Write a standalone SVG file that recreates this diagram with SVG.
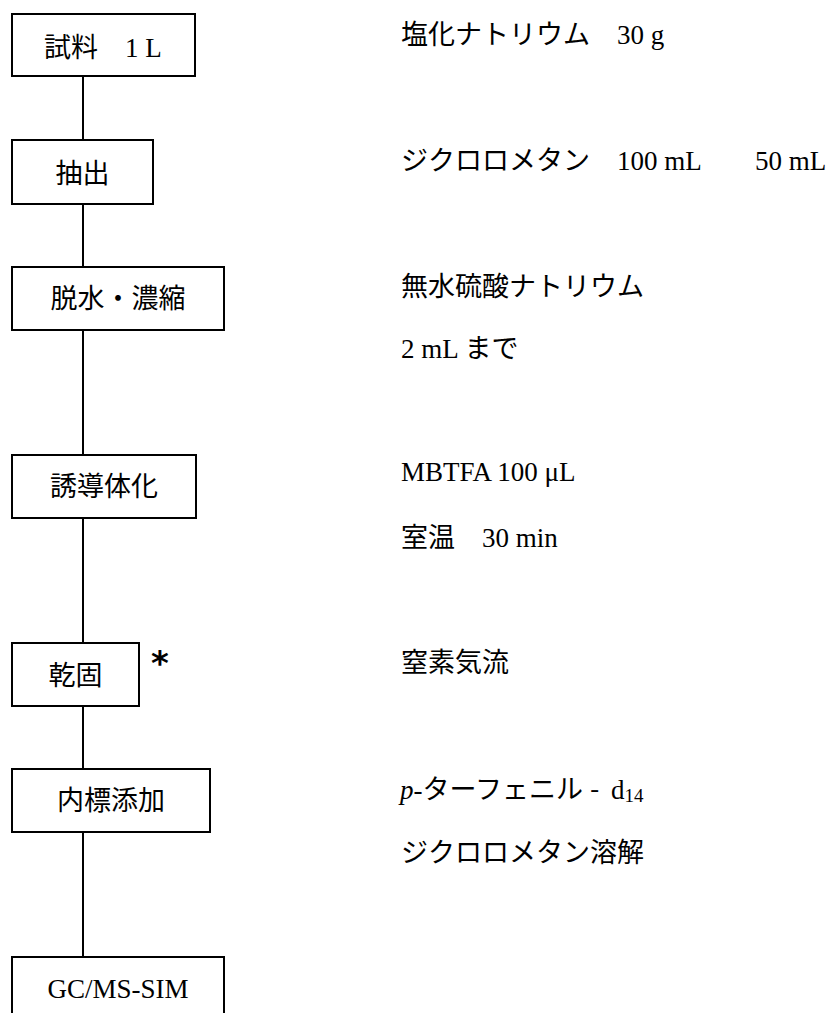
<svg xmlns="http://www.w3.org/2000/svg" width="831" height="1013" viewBox="0 0 831 1013">
<style>
.box{fill:#fff;stroke:#000;stroke-width:2}
.conn{stroke:#000;stroke-width:2;fill:none}
text{font-size:27px;fill:#000}
.jp{font-family:"Noto Sans CJK JP","Noto Sans",sans-serif}
.ro{font-family:"Liberation Serif","Times New Roman",serif}
.it{font-family:"Liberation Serif","Times New Roman",serif;font-style:italic}
.ast{font-family:"DejaVu Sans",sans-serif;font-size:34px;font-weight:bold}
</style>
<rect width="831" height="1013" fill="#fff"/>
<g id="connectors">
<line class="conn" x1="83" y1="76" x2="83" y2="140"/>
<line class="conn" x1="83" y1="204" x2="83" y2="267"/>
<line class="conn" x1="83" y1="330" x2="83" y2="455"/>
<line class="conn" x1="83" y1="518" x2="83" y2="643"/>
<line class="conn" x1="83" y1="706" x2="83" y2="769"/>
<line class="conn" x1="83" y1="832" x2="83" y2="957"/>
</g>
<g id="n1">
<rect class="box" x="12" y="14" width="183" height="62"/>
<text y="57"><tspan class="jp" x="44">試料　</tspan><tspan class="ro">1 L</tspan></text>
</g>
<g id="n2">
<rect class="box" x="12" y="140" width="141" height="64"/>
<text class="jp" x="82.5" y="183" text-anchor="middle">抽出</text>
</g>
<g id="n3">
<rect class="box" x="12" y="267" width="212" height="63"/>
<text class="jp" x="118" y="308" text-anchor="middle">脱水・濃縮</text>
</g>
<g id="n4">
<rect class="box" x="12" y="455" width="184" height="63"/>
<text class="jp" x="104" y="496" text-anchor="middle">誘導体化</text>
</g>
<g id="n5">
<rect class="box" x="12" y="643" width="127" height="63"/>
<text class="jp" x="75.5" y="685" text-anchor="middle">乾固</text>
<text class="ast" x="151" y="675">*</text>
</g>
<g id="n6">
<rect class="box" x="12" y="769" width="198" height="63"/>
<text class="jp" x="111" y="810" text-anchor="middle">内標添加</text>
</g>
<g id="n7">
<rect class="box" x="12" y="957" width="212" height="70"/>
<text class="ro" x="118" y="998" text-anchor="middle">GC/MS-SIM</text>
</g>
<g id="notes">
<text y="44"><tspan class="jp" x="401">塩化ナトリウム　</tspan><tspan class="ro">30 g</tspan></text>
<text y="170"><tspan class="jp" x="401">ジクロロメタン　</tspan><tspan class="ro">100 mL</tspan><tspan class="ro" x="755">50 mL</tspan></text>
<text class="jp" x="401" y="296">無水硫酸ナトリウム</text>
<text y="358"><tspan class="ro" x="401">2 mL </tspan><tspan class="jp">まで</tspan></text>
<text class="ro" x="401" y="481">MBTFA 100 μL</text>
<text y="547"><tspan class="jp" x="401">室温　</tspan><tspan class="ro">30 min</tspan></text>
<text class="jp" x="401" y="672">窒素気流</text>
<text y="799"><tspan class="it" x="400">p</tspan><tspan class="ro">-</tspan><tspan class="jp">ターフェニル</tspan><tspan class="jp" x="590">-</tspan><tspan class="ro" x="611">d</tspan><tspan class="ro" font-size="19" dy="3">14</tspan></text>
<text class="jp" x="401" y="862">ジクロロメタン溶解</text>
</g>
</svg>
